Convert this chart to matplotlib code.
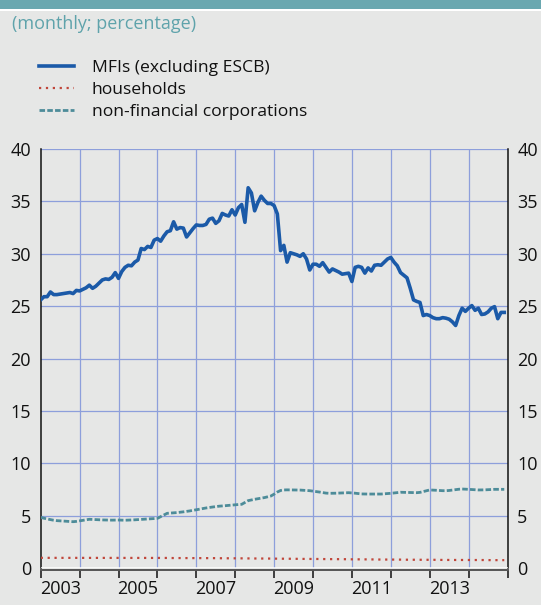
import numpy as np
import matplotlib.pyplot as plt
from matplotlib.patches import Rectangle
from matplotlib.ticker import FixedLocator, NullFormatter

plt.rcParams['font.family'] = ['Open Sans', 'DejaVu Sans']

# monthly observations, Jan 2003 - Dec 2014
mfi = [
    25.6, 25.9, 25.9, 26.35, 26.1, 26.1, 26.15, 26.2, 26.25, 26.3, 26.2, 26.5,
    26.45, 26.6, 26.75, 27.0, 26.7, 26.9, 27.2, 27.5, 27.6, 27.55, 27.75, 28.2,
    27.65, 28.3, 28.7, 28.9, 28.85, 29.2, 29.4, 30.5, 30.4, 30.7, 30.6, 31.3,
    31.45, 31.2, 31.7, 32.1, 32.2, 33.05, 32.35, 32.5, 32.45, 31.6, 32.0, 32.4,
    32.75, 32.7, 32.7, 32.8, 33.3, 33.4, 32.9, 33.15, 33.85, 33.7, 33.6, 34.2,
    33.7, 34.4, 34.7, 33.0, 36.3, 35.8, 34.1, 34.9, 35.5, 35.1, 34.8, 34.8,
    34.6, 33.8, 30.3, 30.8, 29.2, 30.1, 30.0, 29.9, 29.75, 30.0, 29.5, 28.45,
    29.0, 29.0, 28.8, 29.15, 28.7, 28.25, 28.55, 28.4, 28.25, 28.05, 28.1, 28.15,
    27.35, 28.7, 28.8, 28.7, 28.15, 28.65, 28.35, 28.9, 28.95, 28.9, 29.2, 29.5,
    29.65, 29.2, 28.85, 28.2, 27.95, 27.7, 26.7, 25.6, 25.45, 25.35, 24.1, 24.2,
    24.1, 23.9, 23.8, 23.8, 23.9, 23.85, 23.75, 23.5, 23.15, 24.1, 24.8, 24.5,
    24.8, 25.05, 24.6, 24.8, 24.2, 24.25, 24.45, 24.8, 24.95, 23.8, 24.4, 24.4,
]

households = [
    0.97, 0.97, 0.97, 0.96, 0.96, 0.96, 0.96, 0.96, 0.96, 0.96, 0.96, 0.96,
    0.96, 0.96, 0.96, 0.96, 0.96, 0.96, 0.96, 0.96, 0.96, 0.96, 0.96, 0.96,
    0.96, 0.96, 0.96, 0.96, 0.96, 0.96, 0.96, 0.96, 0.96, 0.96, 0.96, 0.96,
    0.96, 0.96, 0.96, 0.96, 0.95, 0.95, 0.95, 0.95, 0.95, 0.95, 0.95, 0.95,
    0.95, 0.95, 0.94, 0.94, 0.94, 0.94, 0.94, 0.93, 0.93, 0.93, 0.93, 0.93,
    0.92, 0.92, 0.92, 0.92, 0.91, 0.91, 0.91, 0.91, 0.90, 0.90, 0.90, 0.90,
    0.89, 0.89, 0.89, 0.88, 0.88, 0.88, 0.88, 0.87, 0.87, 0.87, 0.87, 0.86,
    0.86, 0.86, 0.86, 0.85, 0.85, 0.85, 0.85, 0.84, 0.84, 0.84, 0.84, 0.83,
    0.83, 0.83, 0.83, 0.82, 0.82, 0.82, 0.82, 0.81, 0.81, 0.81, 0.81, 0.80,
    0.80, 0.80, 0.80, 0.80, 0.79, 0.79, 0.79, 0.79, 0.79, 0.78, 0.78, 0.78,
    0.78, 0.78, 0.78, 0.77, 0.77, 0.77, 0.77, 0.77, 0.77, 0.77, 0.76, 0.76,
    0.76, 0.76, 0.76, 0.76, 0.76, 0.76, 0.75, 0.75, 0.75, 0.75, 0.75, 0.75,
]

nfc = [
    4.84, 4.75, 4.68, 4.62, 4.56, 4.52, 4.50, 4.48, 4.46, 4.44, 4.42, 4.45,
    4.50, 4.55, 4.60, 4.65, 4.64, 4.62, 4.60, 4.59, 4.58, 4.58, 4.57, 4.58,
    4.58, 4.57, 4.56, 4.57, 4.58, 4.60, 4.62, 4.64, 4.66, 4.68, 4.70, 4.72,
    4.74, 4.90, 5.05, 5.22, 5.24, 5.26, 5.29, 5.32, 5.36, 5.40, 5.45, 5.50,
    5.56, 5.62, 5.68, 5.73, 5.78, 5.82, 5.86, 5.90, 5.92, 5.95, 5.98, 6.01,
    6.04, 6.06, 6.08, 6.25, 6.43, 6.50, 6.56, 6.61, 6.65, 6.72, 6.80, 6.87,
    7.05, 7.25, 7.40, 7.45, 7.46, 7.45, 7.45, 7.45, 7.44, 7.42, 7.40, 7.38,
    7.34, 7.30, 7.25, 7.20, 7.15, 7.13, 7.13, 7.14, 7.15, 7.16, 7.18, 7.19,
    7.17, 7.14, 7.10, 7.07, 7.06, 7.06, 7.06, 7.05, 7.06, 7.06, 7.08, 7.10,
    7.13, 7.16, 7.20, 7.23, 7.22, 7.21, 7.20, 7.19, 7.19, 7.22, 7.30, 7.38,
    7.45, 7.44, 7.42, 7.40, 7.38, 7.38, 7.40, 7.44, 7.48, 7.52, 7.54, 7.53,
    7.51, 7.49, 7.47, 7.45, 7.45, 7.46, 7.48, 7.50, 7.51, 7.51, 7.51, 7.51,
]

start_year = 2003
year_labels = ['2003', '', '2005', '', '2007', '', '2009', '', '2011', '', '2013', '']
y_ticks = [0, 5, 10, 15, 20, 25, 30, 35, 40]

bg = '#e6e7e6'
grid_col = '#8d9fdb'
teal = '#6aa8b0'

t = start_year + np.arange(len(mfi)) / 12.0

fig = plt.figure(figsize=(5.41, 6.05), dpi=100, facecolor=bg)
fig.patches.append(Rectangle((0, 1 - 8.5 / 605), 1, 8.5 / 605, transform=fig.transFigure,
                             facecolor=teal, edgecolor='none'))
fig.patches.append(Rectangle((0, 1 - 11 / 605), 1, 2.5 / 605, transform=fig.transFigure,
                             facecolor='white', edgecolor='none'))
fig.text(12 / 541, 1 - 24 / 605, '(monthly; percentage)', color='#5fa3ab',
         fontsize=13, va='center', ha='left')

ax = fig.add_axes([40.7 / 541, 37 / 605, 466.8 / 541, 419 / 605])
ax.set_facecolor(bg)

l1, = ax.plot(t, mfi, color='#1b5aa8', lw=2.6, solid_joinstyle='round',
              label='MFIs (excluding ESCB)', zorder=5)
l2, = ax.plot(t, households, color='#c0463a', lw=1.6, linestyle=(0, (1, 2.1)),
              label='households', zorder=4)
l3, = ax.plot(t, nfc, color='#4d8c99', lw=2.0, linestyle=(0, (2.0, 0.8)),
              label='non-financial corporations', zorder=4)

ax.set_xlim(start_year, start_year + 12)
ax.set_ylim(0, 40)

for yr in range(start_year + 1, start_year + 12):
    ax.axvline(yr, color=grid_col, lw=0.9, zorder=1)
for v in y_ticks[1:]:
    ax.axhline(v, color=grid_col, lw=0.9, zorder=1)
ax.axhline(0, color='white', lw=1.8, zorder=3)

ax.xaxis.set_major_locator(FixedLocator(range(start_year, start_year + 13)))
ax.xaxis.set_major_formatter(NullFormatter())
ax.xaxis.set_minor_locator(FixedLocator([start_year + i + 0.5 for i in range(12)]))
ax.set_xticklabels(year_labels, minor=True)
ax.tick_params(axis='x', which='major', direction='out', length=5.5, width=1.2,
               color='#222222')
ax.tick_params(axis='x', which='minor', length=0, pad=7, labelsize=13,
               labelcolor='#111111')

ax.set_yticks(y_ticks)
ax.tick_params(axis='y', which='major', length=0, pad=7, labelsize=13,
               labelcolor='#111111', left=True, right=True, labelleft=True, labelright=True)

ax.spines['top'].set_visible(False)
for side in ['left', 'right']:
    ax.spines[side].set_color('#111111')
    ax.spines[side].set_linewidth(1.1)
ax.spines['bottom'].set_color('#555555')
ax.spines['bottom'].set_linewidth(1.4)
ax.spines['bottom'].set_position(('outward', 1.5))

fig.legend(handles=[l1, l2, l3], loc='upper left', bbox_to_anchor=(39 / 541, 1 - 60 / 605),
           frameon=False, fontsize=12.6, handlelength=2.0, handletextpad=1.0,
           labelspacing=0.32, borderpad=0, borderaxespad=0, labelcolor='#111111')

fig.savefig('out.png', dpi=100, facecolor=bg)
